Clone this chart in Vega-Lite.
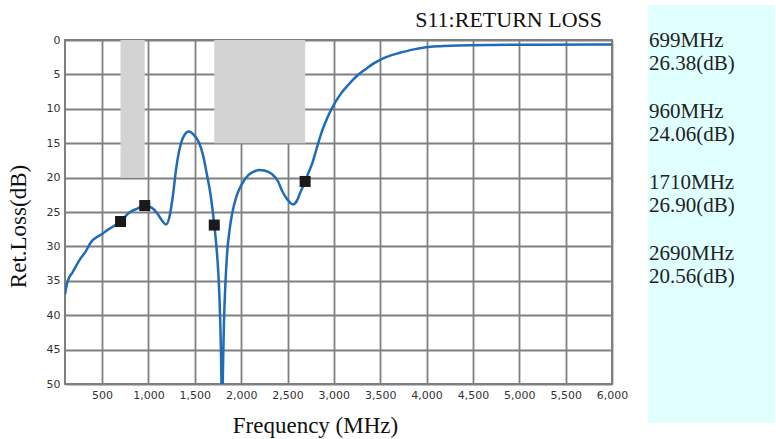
{
  "$schema": "https://vega.github.io/schema/vega-lite/v6.json",
  "padding": {"left": 6, "top": 5, "right": 0, "bottom": 0},
  "background": "white",
  "spacing": 19,
  "config": {"axis": {"labelOverlap": false}},
  "datasets": {
    "bands": [
      {"f1": 699, "f2": 960, "top": 0, "bot": 20},
      {"f1": 1710, "f2": 2690, "top": 0, "bot": 15}
    ],
    "markers": [
      {"freq": 699, "loss": 26.38, "fLabel": "699MHz", "lLabel": "26.38(dB)"},
      {"freq": 960, "loss": 24.06, "fLabel": "960MHz", "lLabel": "24.06(dB)"},
      {"freq": 1710, "loss": 26.9, "fLabel": "1710MHz", "lLabel": "26.90(dB)"},
      {"freq": 2690, "loss": 20.56, "fLabel": "2690MHz", "lLabel": "20.56(dB)"}
    ],
    "heading": [{"t": "S11:RETURN LOSS"}],
    "curve": [
      {"f": 100, "loss": 37.0}, {"f": 120, "loss": 35.5}, {"f": 143, "loss": 34.6},
      {"f": 180, "loss": 33.8}, {"f": 251, "loss": 32.1}, {"f": 320, "loss": 30.8},
      {"f": 391, "loss": 29.2}, {"f": 450, "loss": 28.6}, {"f": 500, "loss": 28.2},
      {"f": 560, "loss": 27.6}, {"f": 620, "loss": 27.1}, {"f": 699, "loss": 26.38},
      {"f": 790, "loss": 25.1}, {"f": 880, "loss": 24.5}, {"f": 960, "loss": 24.06},
      {"f": 1038, "loss": 24.4}, {"f": 1100, "loss": 25.3}, {"f": 1150, "loss": 26.3},
      {"f": 1190, "loss": 26.8}, {"f": 1225, "loss": 25.8}, {"f": 1260, "loss": 23.0},
      {"f": 1300, "loss": 18.6}, {"f": 1340, "loss": 15.6}, {"f": 1380, "loss": 14.0},
      {"f": 1437, "loss": 13.3}, {"f": 1490, "loss": 13.8}, {"f": 1545, "loss": 14.9},
      {"f": 1590, "loss": 16.8}, {"f": 1630, "loss": 19.5}, {"f": 1670, "loss": 22.5},
      {"f": 1710, "loss": 26.9}, {"f": 1740, "loss": 31.1}, {"f": 1765, "loss": 37.0},
      {"f": 1783, "loss": 45.6}, {"f": 1795, "loss": 56.0}, {"f": 1805, "loss": 47.0},
      {"f": 1815, "loss": 40.8}, {"f": 1830, "loss": 35.5}, {"f": 1848, "loss": 31.1},
      {"f": 1875, "loss": 27.6}, {"f": 1902, "loss": 25.3}, {"f": 1950, "loss": 22.7},
      {"f": 2010, "loss": 20.9}, {"f": 2080, "loss": 19.6}, {"f": 2160, "loss": 19.0},
      {"f": 2193, "loss": 18.9}, {"f": 2260, "loss": 19.0}, {"f": 2333, "loss": 19.5},
      {"f": 2400, "loss": 20.6}, {"f": 2441, "loss": 21.9}, {"f": 2500, "loss": 23.2},
      {"f": 2560, "loss": 23.9}, {"f": 2600, "loss": 23.4}, {"f": 2640, "loss": 22.1},
      {"f": 2690, "loss": 20.56}, {"f": 2720, "loss": 19.5}, {"f": 2765, "loss": 18.0},
      {"f": 2820, "loss": 15.5}, {"f": 2873, "loss": 13.2}, {"f": 2930, "loss": 11.3},
      {"f": 2980, "loss": 9.9}, {"f": 3070, "loss": 7.9}, {"f": 3164, "loss": 6.4},
      {"f": 3250, "loss": 5.2}, {"f": 3347, "loss": 4.2}, {"f": 3430, "loss": 3.4},
      {"f": 3509, "loss": 2.8}, {"f": 3600, "loss": 2.3}, {"f": 3703, "loss": 1.9},
      {"f": 3850, "loss": 1.4}, {"f": 3994, "loss": 1.05}, {"f": 4150, "loss": 0.9},
      {"f": 4350, "loss": 0.8}, {"f": 4700, "loss": 0.72}, {"f": 5200, "loss": 0.68},
      {"f": 6000, "loss": 0.65}
    ]
  },
  "hconcat": [
    {
      "spacing": 2,
      "vconcat": [
        {
          "width": 547,
          "height": 22,
          "view": {"stroke": null},
          "data": {"name": "heading"},
          "mark": {"type": "text", "align": "right", "baseline": "alphabetic", "dx": -10, "font": "Liberation Serif", "fontSize": 22, "color": "#111"},
          "encoding": {
            "text": {"field": "t"},
            "x": {"value": "width"},
            "y": {"value": "height"}
          }
        },
        {
          "width": 547,
          "height": 344,
          "view": {"stroke": "#7f7f7f", "strokeWidth": 2},
          "layer": [
            {
              "data": {"name": "bands"},
              "mark": {"type": "rect", "color": "#d3d3d3"},
              "encoding": {
                "x": {
                  "field": "f1", "type": "quantitative",
                  "scale": {"domain": [100, 6000], "nice": false, "zero": false},
                  "axis": {
                    "title": "Frequency (MHz)",
                    "values": [500, 1000, 1500, 2000, 2500, 3000, 3500, 4000, 4500, 5000, 5500, 6000],
                    "tickCount": 20,
                    "format": ",d",
                    "grid": true, "gridColor": "#808080", "gridWidth": 1.8, "gridOpacity": 1,
                    "ticks": false, "domain": false,
                    "labelFont": "DejaVu Sans", "labelFontSize": 11, "labelColor": "#333",
                    "labelPadding": 5, "labelFlush": false, "labelOverlap": false,
                    "titleFont": "Liberation Serif", "titleFontSize": 23, "titleFontWeight": "normal",
                    "titleColor": "#111", "titleX": 250, "titleY": 48, "titleBaseline": "alphabetic",
                    "titleAlign": "center"
                  }
                },
                "x2": {"field": "f2"},
                "y": {
                  "field": "top", "type": "quantitative",
                  "scale": {"domain": [0, 50], "reverse": true, "nice": false, "zero": false},
                  "axis": {
                    "title": "Ret.Loss(dB)",
                    "values": [0, 5, 10, 15, 20, 25, 30, 35, 40, 45, 50],
                    "tickCount": 20,
                    "format": "d",
                    "grid": true, "gridColor": "#808080", "gridWidth": 1.8, "gridOpacity": 1,
                    "ticks": false, "domain": false,
                    "labelFont": "DejaVu Sans", "labelFontSize": 11, "labelColor": "#333",
                    "labelPadding": 5, "labelFlush": false, "labelOverlap": false,
                    "titleFont": "Liberation Serif", "titleFontSize": 23, "titleFontWeight": "normal",
                    "titleColor": "#111", "titleX": -40, "titleY": 186, "titleAngle": 270,
                    "titleBaseline": "alphabetic", "titleAlign": "center"
                  }
                },
                "y2": {"field": "bot"}
              }
            },
            {
              "data": {"name": "curve"},
              "mark": {"type": "line", "color": "#1f6bb8", "strokeWidth": 2.5, "interpolate": "monotone", "clip": true},
              "encoding": {
                "x": {"field": "f", "type": "quantitative"},
                "y": {"field": "loss", "type": "quantitative"}
              }
            },
            {
              "data": {"name": "markers"},
              "mark": {"type": "square", "size": 121, "color": "#1a1a1a", "opacity": 1, "filled": true},
              "encoding": {
                "x": {"field": "freq", "type": "quantitative"},
                "y": {"field": "loss", "type": "quantitative"}
              }
            }
          ]
        }
      ]
    },
    {
      "width": 127,
      "height": 418,
      "view": {"fill": "#e0ffff", "stroke": null},
      "data": {"name": "markers"},
      "encoding": {
        "y": {"field": "freq", "type": "ordinal", "scale": {"type": "point", "range": [47.5, 260], "padding": 0}, "axis": null},
        "x": {"datum": 0, "type": "quantitative", "scale": {"domain": [0, 1]}, "axis": null}
      },
      "layer": [
        {
          "mark": {"type": "text", "align": "left", "baseline": "middle", "dx": 1, "dy": -11.5, "font": "Liberation Serif", "fontSize": 21, "color": "#222"},
          "encoding": {"text": {"field": "fLabel"}}
        },
        {
          "mark": {"type": "text", "align": "left", "baseline": "middle", "dx": 1, "dy": 11.5, "font": "Liberation Serif", "fontSize": 21, "color": "#222"},
          "encoding": {"text": {"field": "lLabel"}}
        }
      ]
    }
  ]
}
